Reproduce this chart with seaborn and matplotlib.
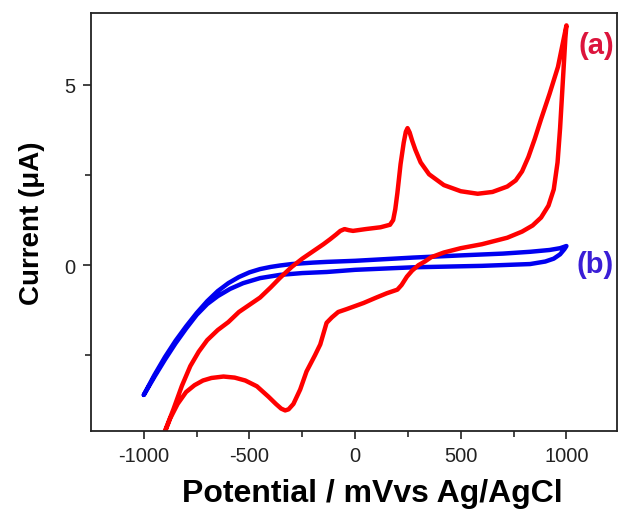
import matplotlib
matplotlib.use("Agg")
import matplotlib.pyplot as plt
from matplotlib.ticker import FixedLocator
import pandas as pd
import seaborn as sns

# Cyclic voltammogram (a): anodic sweep then cathodic sweep
a_fwd_E = [-940, -900, -860, -820, -780, -740, -700, -650, -600, -550, -500, -450,
           -400, -355, -300, -250, -200, -150, -118, -90, -70, -50, -30, -10, 50, 120,
           165, 180, 190, 200, 215, 230, 240, 248, 258, 270, 285, 310, 350, 420, 500,
           580, 650, 720, 760, 790, 820, 850, 880, 920, 960, 1000]
a_fwd_I = [-5.30, -4.60, -4.00, -3.35, -2.80, -2.40, -2.08, -1.80, -1.58, -1.30, -1.10, -0.90,
           -0.62, -0.35, -0.05, 0.18, 0.38, 0.58, 0.72, 0.85, 0.95, 1.00, 0.97, 0.95, 1.00, 1.05,
           1.12, 1.25, 1.55, 2.00, 2.80, 3.40, 3.70, 3.80, 3.68, 3.45, 3.20, 2.85, 2.52, 2.22, 2.05,
           1.98, 2.03, 2.18, 2.35, 2.60, 3.00, 3.50, 4.05, 4.75, 5.50, 6.65]
a_rev_E = [995, 988, 980, 970, 958, 940, 915, 880, 840, 790, 720, 600, 500, 420, 360,
           330, 300, 270, 245, 220, 200, 150, 100, 40, -40, -80, -110, -135, -165, -190,
           -230, -260, -292, -315, -331, -350, -375, -410, -465, -520, -570, -623, -680,
           -720, -760, -800, -840, -875, -905, -940]
a_rev_I = [6.30, 5.60, 4.80, 3.80, 2.85, 2.10, 1.65, 1.32, 1.10, 0.93, 0.76, 0.58, 0.47,
           0.35, 0.22, 0.10, 0.00, -0.15, -0.32, -0.55, -0.68, -0.78, -0.90, -1.05, -1.22,
           -1.30, -1.45, -1.60, -2.20, -2.50, -2.95, -3.45, -3.85, -4.00, -4.03, -3.98,
           -3.85, -3.65, -3.36, -3.20, -3.12, -3.09, -3.13, -3.20, -3.33, -3.52, -3.85,
           -4.25, -4.70, -5.30]

# Cyclic voltammogram (b): blank electrode
b_fwd_E = [-1000, -950, -900, -850, -800, -750, -700, -650, -600, -550, -500, -450,
           -400, -355, -300, -200, -134, 0, 276, 500, 700, 828, 920, 970, 1000]
b_fwd_I = [-3.60, -3.05, -2.55, -2.10, -1.70, -1.33, -1.00, -0.72, -0.50, -0.33, -0.20,
           -0.11, -0.05, -0.01, 0.03, 0.07, 0.09, 0.12, 0.21, 0.27, 0.32, 0.37, 0.42,
           0.47, 0.53]
b_rev_E = [990, 970, 940, 900, 828, 600, 276, 0, -134, -250, -355, -450, -530, -592,
           -650, -700, -750, -800, -850, -900, -950, -1000]
b_rev_I = [0.44, 0.30, 0.18, 0.10, 0.03, -0.02, -0.06, -0.13, -0.19, -0.22, -0.27,
           -0.36, -0.50, -0.66, -0.86, -1.08, -1.38, -1.76, -2.17, -2.62, -3.10, -3.60]

x_major = [-1000, -500, 0, 500, 1000]
x_minor = [-750, -250, 250, 750]
y_major = [0, 5]
y_minor = [-2.5, 2.5]

curve_a = pd.DataFrame({"E": a_fwd_E + a_rev_E, "I": a_fwd_I + a_rev_I})
curve_b = pd.DataFrame({"E": b_fwd_E + b_rev_E, "I": b_fwd_I + b_rev_I})

sns.set_style("ticks")
plt.rcParams["font.family"] = ["Liberation Sans", "DejaVu Sans"]
plt.rcParams["axes.unicode_minus"] = False

fig, ax = plt.subplots(figsize=(6.19, 5.10), dpi=100)
fig.subplots_adjust(left=0.147, right=0.997, bottom=0.153, top=0.973)

sns.lineplot(data=curve_b, x="E", y="I", sort=False, estimator=None,
             color="#0000f0", linewidth=3.2, ax=ax,
             solid_joinstyle="round", solid_capstyle="round")
sns.lineplot(data=curve_a, x="E", y="I", sort=False, estimator=None,
             color="#ff0000", linewidth=3.2, ax=ax,
             solid_joinstyle="round", solid_capstyle="round")

ax.set_xlim(-1250, 1240)
ax.set_ylim(-4.6, 7.0)
ax.xaxis.set_major_locator(FixedLocator(x_major))
ax.xaxis.set_minor_locator(FixedLocator(x_minor))
ax.yaxis.set_major_locator(FixedLocator(y_major))
ax.yaxis.set_minor_locator(FixedLocator(y_minor))
ax.tick_params(which="major", direction="out", length=6, width=1.2,
               labelsize=14.5, colors="#222222", pad=5)
ax.tick_params(which="minor", direction="out", length=4, width=1.2)
ax.tick_params(top=False, right=False, which="both")
for sp in ax.spines.values():
    sp.set_linewidth(1.3)
    sp.set_color("#222222")

ax.set_xlabel("Potential / mVvs Ag/AgCl", fontsize=23, fontweight="bold",
              labelpad=9, color="black")
ax.xaxis.label.set_x(0.534)
ax.set_ylabel("Current (μA)", fontsize=20, fontweight="bold",
              labelpad=14, color="black")

ax.text(1055, 6.1, "(a)", color="#dc143c", fontsize=21, fontweight="bold",
        ha="left", va="center")
ax.text(1050, 0.03, "(b)", color="#3a1ed6", fontsize=21, fontweight="bold",
        ha="left", va="center")

fig.savefig("out.png", dpi=100)
